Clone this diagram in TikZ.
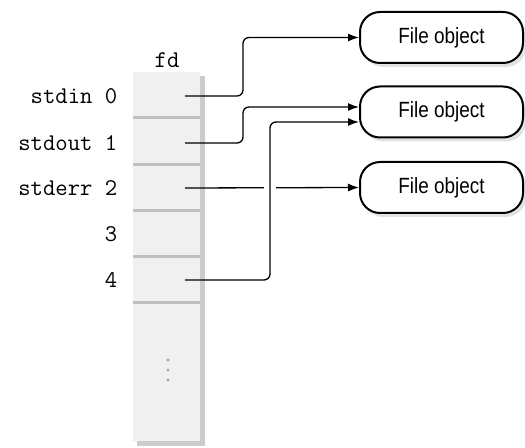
\documentclass[tikz,border=0pt]{standalone}
\usepackage{fontspec}
\setsansfont{Liberation Sans}
\newfontfamily\narrowsans{Liberation Sans}[FakeStretch=0.86]
\usetikzlibrary{arrows.meta, positioning, calc, shadows}

\begin{document}
\begin{tikzpicture}[
    x=0.5pt, y=-0.5pt,
    cell/.style={minimum width=33.5pt, minimum height=23pt, inner sep=0pt},
    fdlabel/.style={font=\fontsize{12}{14}\ttfamily, inner sep=0pt, anchor=east},
    fileobj/.style={draw, line width=1pt, rounded corners=10pt, fill=white,
      minimum width=81.5pt, minimum height=25.5pt,
      font=\narrowsans\fontsize{11}{13}\selectfont,
      drop shadow={shadow xshift=1.5pt, shadow yshift=-2pt, fill=gray!45}},
    conn/.style={-{Latex[length=5.5pt,width=4pt]}, line width=0.65pt, rounded corners=3pt}
  ]
    \useasboundingbox (0,0) rectangle (525,448);

    % fd table
    \fill[gray!40] (137,76) rectangle (205,446);
    \fill[gray!12] (133,72) rectangle (200,441);
    \foreach \y in {118,165,211,257,303}
      \draw[gray!50, line width=1.5pt] (133,\y) -- (200,\y);
    \foreach \y in {360,370,380}
      \fill[gray!70] (168,\y) circle (0.8pt);
    \node[font=\fontsize{12}{14}\ttfamily] (fd) at (167,60) {fd};

    \node[cell] (c0) at (166.5,96) {};
    \node[cell] (c1) at (166.5,143) {};
    \node[cell] (c2) at (166.5,188) {};
    \node[cell] (c3) at (166.5,234) {};
    \node[cell] (c4) at (166.5,280) {};

    \node[fdlabel, left=7.5pt of c0.west] (in) {stdin 0};
    \node[fdlabel, left=7.5pt of c1.west] (out) {stdout 1};
    \node[fdlabel, left=7.5pt of c2.west] (err) {stderr 2};
    \node[fdlabel, left=7.5pt of c3.west] (n3) {3};
    \node[fdlabel, left=7.5pt of c4.west] (n4) {4};

    % File objects
    \node[fileobj] (fo1) at (441.5,37.5) {File object};
    \node[fileobj] (fo2) at (441.5,112) {File object};
    \node[fileobj] (fo3) at (441.5,187.5) {File object};

    % Arrows
    \coordinate (s0) at ([xshift=9.25pt]c0.center);
    \coordinate (s1) at ([xshift=9.25pt]c1.center);
    \coordinate (s2) at ([xshift=9.25pt]c2.center);
    \coordinate (s4) at ([xshift=9.25pt]c4.center);
    \coordinate (t4) at ($(s4)+(85,0)$);

    \draw[conn] (s0) -- ++(58,0) |- (fo1.west);
    \draw[conn] (s1) -- ++(58,0) |- ([yshift=2.5pt]fo2.west);
    \draw[conn] (s2) -- (fo3.west);
    % gap where fd 4 crosses
    \fill[white] ($(s2 -| t4)+(-6,-3)$) rectangle ($(s2 -| t4)+(6,3)$);
    \draw[conn] (s4) -- (t4) |- ([yshift=-5pt]fo2.west);
  \end{tikzpicture}
\end{document}
